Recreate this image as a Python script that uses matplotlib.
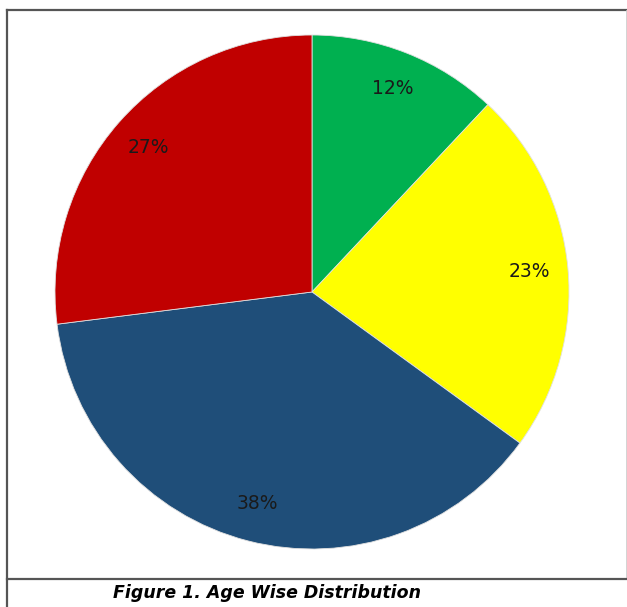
import matplotlib.pyplot as plt
from matplotlib.lines import Line2D

# Age groups, in clockwise order from twelve o'clock
shares = [12, 23, 38, 27]
colors = ["#00b050", "#ffff00", "#1f4e79", "#c00000"]
caption = "Figure 1. Age Wise Distribution"

W, H = 627, 607
fig = plt.figure(figsize=(W / 100, H / 100), dpi=100)

# Pie centre and radius in pixels (from top-left)
cx, cy, r = 312, 292, 257
ax = fig.add_axes([(cx - r) / W, (H - cy - r) / H, 2 * r / W, 2 * r / H])
wedges, texts = ax.pie(shares, colors=colors, startangle=90, counterclock=False,
                       labels=[f"{s}%" for s in shares], labeldistance=0.85,
                       wedgeprops=dict(linewidth=0.6, edgecolor="#e0e0e0"),
                       textprops=dict(fontsize=13.5, color="#1a1a1a"))
for t in texts:
    t.set_horizontalalignment("center")
    t.set_verticalalignment("center")
ax.set_xlim(-1, 1)
ax.set_ylim(-1, 1)
ax.axis("off")


def px_line(x0, y0, x1, y1, lw=1.6, color="#555555"):
    fig.add_artist(Line2D([x0 / W, x1 / W], [1 - y0 / H, 1 - y1 / H],
                          transform=fig.transFigure, color=color, lw=lw))


# Frame around the chart and the caption divider
px_line(7, 9.5, 626, 9.5)
px_line(7, 9.5, 7, 607)
px_line(626, 9.5, 626, 579, lw=0.6, color="#cccccc")
px_line(7, 579, 627, 579)

fig.text(267 / W, 1 - 593 / H, caption, ha="center", va="center",
         fontsize=12.5, fontweight="bold", fontstyle="italic", color="black")

fig.savefig("out.png", dpi=100, facecolor="white")
